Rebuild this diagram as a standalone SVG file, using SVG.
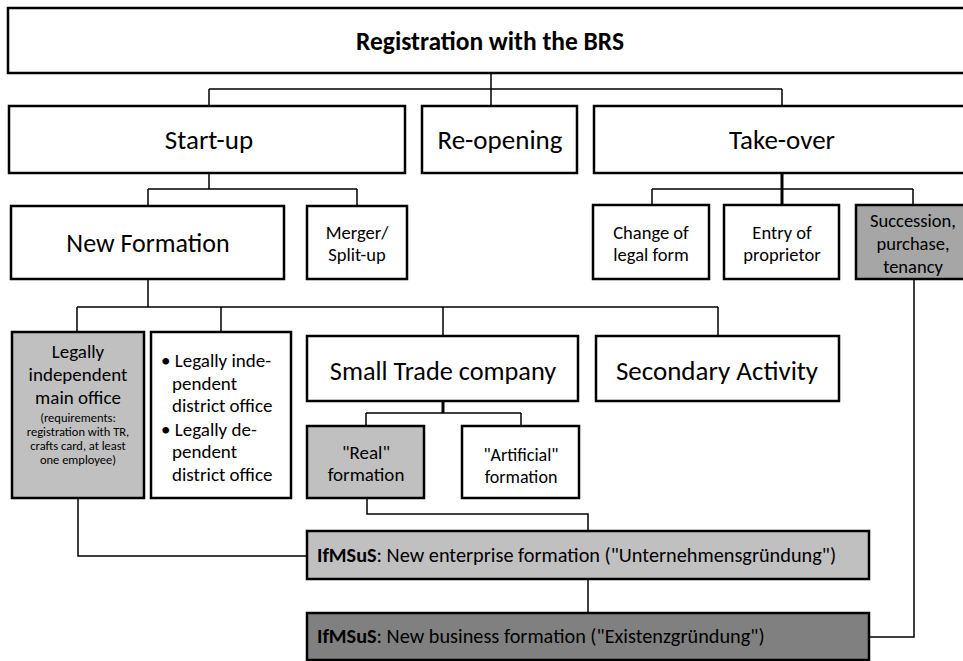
<svg xmlns="http://www.w3.org/2000/svg" width="963" height="661" viewBox="0 0 963 661">
<style>
.box{fill:#fff;stroke:#000;stroke-width:2.5}
.g1{fill:#c0c0c0}
.g2{fill:#a6a6a6}
.g3{fill:#808080}
.c{fill:none;stroke:#000;stroke-width:1.5}
.ct{fill:none;stroke:#000;stroke-width:3}
text{font-family:Carlito,"Open Sans","Liberation Sans",sans-serif;fill:#000}
.m{text-anchor:middle}
.xl{font-size:27px}
.l{font-size:19px}
.s{font-size:18.5px}
.xs{font-size:12.5px}
.f{font-size:20.3px}
</style>
<rect width="963" height="661" fill="#fff"/>
<g id="connectors">
<path class="c" d="M209 89H782M209 89V106M782 89V106"/>
<path class="c" d="M491 73V106"/>
<path class="c" d="M209 173V189M148 189H357M148 189V206M357 189V206"/>
<path class="ct" d="M782 173V205"/>
<path class="c" d="M652 189H913M652 189V205M913 189V205"/>
<path class="c" d="M148 279V307M77 307H718M77 307V332M221 307V332M443 307V336M718 307V336"/>
<path class="ct" d="M443 401V413"/>
<path class="c" d="M366 413H521M366 413V426M521 413V426"/>
<path class="c" d="M78 498V556H307"/>
<path class="c" d="M367 498V514H588V531"/>
<path class="c" d="M588 579V613"/>
<path class="c" d="M914 279V637H869"/>
</g>
<g id="n-brs"><rect class="box" x="8" y="8" width="960" height="65"/><text class="m" x="490" y="50" font-size="25.5" font-weight="bold">Registration with the BRS</text></g>
<g id="n-startup"><rect class="box" x="9" y="106" width="396" height="67"/><text class="m xl" x="209" y="149">Start-up</text></g>
<g id="n-reopening"><rect class="box" x="422" y="106" width="155" height="67"/><text class="m xl" x="500" y="149">Re-opening</text></g>
<g id="n-takeover"><rect class="box" x="594" y="106" width="374" height="67"/><text class="m xl" x="782" y="149">Take-over</text></g>
<g id="n-newformation"><rect class="box" x="11" y="206" width="273" height="73"/><text class="m" x="148" y="252" font-size="26">New Formation</text></g>
<g id="n-merger"><rect class="box" x="307" y="206" width="100" height="73"/><text class="m s" x="357" y="239">Merger/</text><text class="m s" x="357" y="261">Split-up</text></g>
<g id="n-legalform"><rect class="box" x="593" y="205" width="116" height="74"/><text class="m s" x="651" y="239">Change of</text><text class="m s" x="651" y="261">legal form</text></g>
<g id="n-proprietor"><rect class="box" x="724" y="205" width="115" height="74"/><text class="m s" x="782" y="239">Entry of</text><text class="m s" x="782" y="261">proprietor</text></g>
<g id="n-succession"><rect class="box g2" x="856" y="205" width="112" height="74"/><text class="m s" x="913" y="227">Succession,</text><text class="m s" x="913" y="250">purchase,</text><text class="m s" x="913" y="273">tenancy</text></g>
<g id="n-mainoffice"><rect class="box g1" x="12" y="332" width="132" height="166"/>
<text class="m l" x="78" y="358">Legally</text><text class="m l" x="78" y="381">independent</text><text class="m l" x="78" y="404">main office</text>
<text class="m xs" x="78" y="422">(requirements:</text><text class="m xs" x="78" y="436">registration with TR,</text><text class="m xs" x="78" y="450">crafts card, at least</text><text class="m xs" x="78" y="464">one employee)</text></g>
<g id="n-district"><rect class="box" x="151" y="332" width="140" height="166"/>
<text class="l" x="161" y="367">• Legally inde-</text><text class="l" x="172" y="390">pendent</text><text class="l" x="172" y="412">district office</text>
<text class="l" x="161" y="436">• Legally de-</text><text class="l" x="172" y="458">pendent</text><text class="l" x="172" y="481">district office</text></g>
<g id="n-smalltrade"><rect class="box" x="307" y="336" width="271" height="65"/><text class="m" x="443" y="380" font-size="26.3">Small Trade company</text></g>
<g id="n-secondary"><rect class="box" x="596" y="336" width="243" height="65"/><text class="m xl" x="717" y="380">Secondary Activity</text></g>
<g id="n-real"><rect class="box g1" x="307" y="426" width="117" height="72"/><text class="m l" x="366" y="459">"Real"</text><text class="m l" x="366" y="481">formation</text></g>
<g id="n-artificial"><rect class="box" x="462" y="426" width="117" height="72"/><text class="m" x="521" y="461" font-size="18">"Artificial"</text><text class="m" x="521" y="483" font-size="18">formation</text></g>
<g id="n-enterprise"><rect class="box g1" x="307" y="531" width="562" height="48"/><text class="f" x="317" y="562"><tspan font-weight="bold">IfMSuS</tspan>: New enterprise formation ("Unternehmensgründung")</text></g>
<g id="n-business"><rect class="box g3" x="307" y="613" width="562" height="47"/><text class="f" x="317" y="643"><tspan font-weight="bold">IfMSuS</tspan>: New business formation ("Existenzgründung")</text></g>
</svg>
